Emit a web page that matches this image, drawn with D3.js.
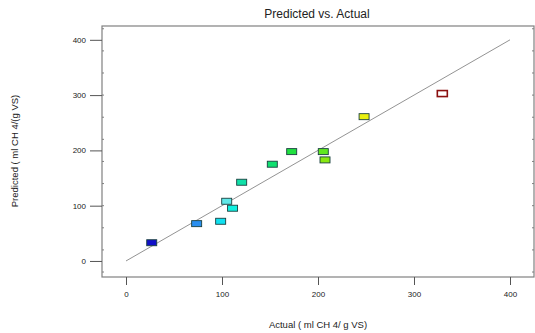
<!DOCTYPE html>
<html>
<head>
<meta charset="utf-8">
<script src="https://cdn.jsdelivr.net/npm/d3@7"></script>
<style>
  body { margin: 0; background: #fff; }
  text { font-family: "Liberation Sans", Arial, sans-serif; fill: #222; }
</style>
</head>
<body>
<div id="chart"></div>
<script>
let width = 535;
let height = 333;

// data
const actual    = [26.8, 73.6, 98.6, 104.9, 111.0, 120.5, 152.4, 172.6, 205.5, 207.3, 248.0, 329.5];
const predicted = [33.0, 67.5, 71.8, 108.0, 95.4, 142.4, 175.0, 197.8, 197.8, 182.8, 261.0, 302.8];
const pointColors = ["#1010c8", "#2a8ff0", "#10e0f0", "#60e8e8", "#10f0e0", "#10e0a8",
                     "#10e070", "#20e040", "#60e820", "#88e810", "#e8f010", "#ffffff"];
const xTicks = [0, 100, 200, 300, 400];
const yTicks = [0, 100, 200, 300, 400];

let svg = d3.select("#chart")
            .append("svg")
            .attr("width", width)
            .attr("height", height)

let frame = {left: 102, right: 534, top: 26, bottom: 277};

let x = d3.scaleLinear().domain([-25, 425]).range([frame.left, frame.right]);
let y = d3.scaleLinear().domain([-29, 425]).range([frame.bottom, frame.top]);

// frame
svg.append("rect")
  .attr("x", frame.left).attr("y", frame.top)
  .attr("width", frame.right - frame.left)
  .attr("height", frame.bottom - frame.top)
  .attr("fill", "none")
  .attr("stroke", "#808080")
  .attr("stroke-width", 1.2)

// small inward ticks on left and right sides
let minor = d3.range(-20, 425, 40)
svg.selectAll(".minorL").data(minor).enter().append("line")
  .attr("x1", frame.left).attr("x2", frame.left + 2)
  .attr("y1", d => y(d)).attr("y2", d => y(d))
  .attr("stroke", "#808080")
svg.selectAll(".minorR").data(minor).enter().append("line")
  .attr("x1", frame.right - 2).attr("x2", frame.right)
  .attr("y1", d => y(d)).attr("y2", d => y(d))
  .attr("stroke", "#808080")

// axes
let xAxis = svg.append("g")
  .attr("transform", `translate(0,${frame.bottom})`)
  .call(d3.axisBottom(x).tickValues(xTicks).tickSize(8).tickPadding(6))
let yAxis = svg.append("g")
  .attr("transform", `translate(${frame.left},0)`)
  .call(d3.axisLeft(y).tickValues(yTicks).tickSize(12).tickPadding(4))

svg.selectAll(".domain").remove()
svg.selectAll(".tick line").attr("stroke", "#555")
svg.selectAll(".tick text")
  .style("font-size", "8px")
  .style("font-family", "'Liberation Sans Narrow', 'Liberation Sans', Arial, sans-serif")
  .attr("fill", "#333")

// diagonal fit line
svg.append("line")
  .attr("x1", x(0)).attr("y1", y(0))
  .attr("x2", x(400)).attr("y2", y(400))
  .attr("stroke", "#777")
  .attr("stroke-width", 0.8)

// points
let pts = actual.map((a, i) => ({a: a, p: predicted[i], c: pointColors[i]}))
svg.selectAll(".pt")
  .data(pts)
  .enter()
  .append("rect")
  .attr("class", "pt")
  .attr("x", d => x(d.a) - 5)
  .attr("y", d => y(d.p) - 3)
  .attr("width", 10)
  .attr("height", 6)
  .attr("fill", d => d.c)
  .attr("stroke", (d, i) => i == pts.length - 1 ? "#8b1010" : "#1a4040")
  .attr("stroke-width", (d, i) => i == pts.length - 1 ? 1.6 : 0.9)

// titles
svg.append("text")
  .attr("x", 317).attr("y", 18)
  .attr("text-anchor", "middle")
  .style("font-size", "12px")
  .text("Predicted vs. Actual")

svg.append("text")
  .attr("x", 318).attr("y", 328)
  .attr("text-anchor", "middle")
  .style("font-size", "9.5px")
  .attr("fill", "#333")
  .text("Actual ( ml CH 4/ g VS)")

svg.append("text")
  .attr("transform", "translate(18,151) rotate(-90)")
  .attr("text-anchor", "middle")
  .style("font-size", "9.5px")
  .attr("fill", "#333")
  .text("Predicted ( ml CH 4/(g VS)")
</script>
</body>
</html>
